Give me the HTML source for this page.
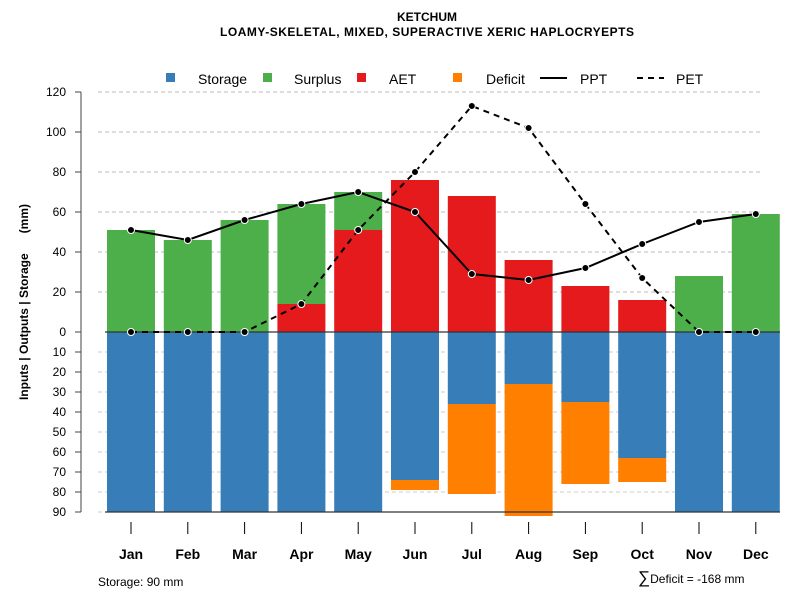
<!DOCTYPE html>
<html><head><meta charset="utf-8"><style>
body{margin:0;background:#fff;}
svg{display:block;font-family:"Liberation Sans",sans-serif;}
</style></head><body>
<svg id="chart" width="800" height="600">
<text x="427" y="21" text-anchor="middle" font-size="12" font-weight="bold">KETCHUM</text>
<text x="427" y="36" text-anchor="middle" font-size="12" font-weight="bold" textLength="414">LOAMY-SKELETAL, MIXED, SUPERACTIVE XERIC HAPLOCRYEPTS</text>
<g font-size="14">
<rect x="166" y="73" width="9" height="9" fill="#377eb8"/>
<text x="198" y="84">Storage</text>
<rect x="263" y="73" width="9" height="9" fill="#4daf4a"/>
<text x="294" y="84">Surplus</text>
<rect x="357" y="73" width="9" height="9" fill="#e41a1c"/>
<text x="389" y="84">AET</text>
<rect x="453" y="73" width="9" height="9" fill="#ff7f00"/>
<text x="486" y="84">Deficit</text>
<line x1="540" y1="78" x2="567" y2="78" stroke="#000" stroke-width="2"/>
<text x="580" y="84">PPT</text>
<line x1="637" y1="78" x2="664" y2="78" stroke="#000" stroke-width="2" stroke-dasharray="6,5"/>
<text x="676" y="84">PET</text>
</g>
<text transform="translate(28,302) rotate(-90)" text-anchor="middle" font-size="12" font-weight="bold" xml:space="preserve">Inputs | Outputs | Storage      (mm)</text>
<text x="98" y="586" font-size="12">Storage: 90 mm</text>
<text x="638" y="583" font-size="12"><tspan font-size="17">∑</tspan><tspan>Deficit = -168 mm</tspan></text>
</svg>
<script>
const months=["Jan","Feb","Mar","Apr","May","Jun","Jul","Aug","Sep","Oct","Nov","Dec"];
const aet=[0,0,0,14,51,76,68,36,23,16,0,0];
const surplus=[51,46,56,50,19,0,0,0,0,0,28,59];
const storage=[90,90,90,90,90,74,36,26,35,63,90,90];
const deficit=[0,0,0,0,0,5,45,66,41,12,0,0];
const ppt=[51,46,56,64,70,60,29,26,32,44,55,59];
const pet=[0,0,0,14,51,80,113,102,64,27,0,0];
const upTicks=[0,20,40,60,80,100,120];
const downTicks=[10,20,30,40,50,60,70,80,90];
const NS="http://www.w3.org/2000/svg";
const svg=document.getElementById('chart');
const x=i=>131+i*56.8;
const yUp=v=>332-v*2;
const yDn=v=>332+v*2;
const bw=48;
function mk(tag,a,parent){const e=document.createElementNS(NS,tag);for(const k in a)e.setAttribute(k,a[k]);(parent||svg).appendChild(e);return e;}
upTicks.forEach(t=>{
 if(t>0){const g=mk('line',{x1:98,x2:760,y1:yUp(t),y2:yUp(t),stroke:'#bbb','stroke-dasharray':'4,3'});
 
 }
 const tk=mk('line',{x1:75,x2:81,y1:yUp(t),y2:yUp(t),stroke:'#444'});
 
 
 const l=mk('text',{x:66,y:yUp(t)+4,'text-anchor':'end','font-size':12});l.textContent=t;
 
 
});
downTicks.forEach(t=>{
 const g=mk('line',{x1:98,x2:760,y1:yDn(t),y2:yDn(t),stroke:'#ccc','stroke-dasharray':'4,3'});
 
 
 const tk=mk('line',{x1:75,x2:81,y1:yDn(t),y2:yDn(t),stroke:'#444'});
 
 
 const l=mk('text',{x:66,y:yDn(t)+4,'text-anchor':'end','font-size':12});l.textContent=t;
 
 
});
const ax=mk('line',{x1:81,x2:81,y1:yUp(120),y2:yDn(90),stroke:'#444'});


months.forEach((m,i)=>{
 const cx=x(i),l=cx-bw/2;
 if(aet[i]>0){const r=mk('rect',{x:l,y:yUp(aet[i]),width:bw,height:aet[i]*2,fill:'#e41a1c'});
 
 }
 if(surplus[i]>0){const r=mk('rect',{x:l,y:yUp(aet[i]+surplus[i]),width:bw,height:surplus[i]*2,fill:'#4daf4a'});
 
 }
 const s=mk('rect',{x:l,y:yDn(0),width:bw,height:storage[i]*2,fill:'#377eb8'});
 
 
 if(deficit[i]>0){const r=mk('rect',{x:l,y:yDn(storage[i]),width:bw,height:deficit[i]*2,fill:'#ff7f00'});
 
 }
 const tk=mk('line',{x1:cx,x2:cx,y1:522,y2:534,stroke:'#000'});
 
 
 const t=mk('text',{x:cx,y:559,'text-anchor':'middle','font-size':14,'font-weight':'bold'});t.textContent=m;
 
 
});
[0,90].forEach(v=>{const l=mk('line',{x1:105,x2:780,y1:yDn(v),y2:yDn(v),stroke:'#333','stroke-width':1.2});
 
 });
function series(vals,name,dash){
 const p=mk('polyline',{points:vals.map((v,i)=>x(i)+','+yUp(v)).join(' '),fill:'none',stroke:'#000','stroke-width':2,'stroke-dasharray':dash||'none'});
 
 
 vals.forEach((v,i)=>{const c=mk('circle',{cx:x(i),cy:yUp(v),r:3.5,fill:'#000',stroke:'#fff','stroke-width':1});
 
 });
}
series(pet,'pet','6,5');
series(ppt,'ppt');
</script>
</body></html>
